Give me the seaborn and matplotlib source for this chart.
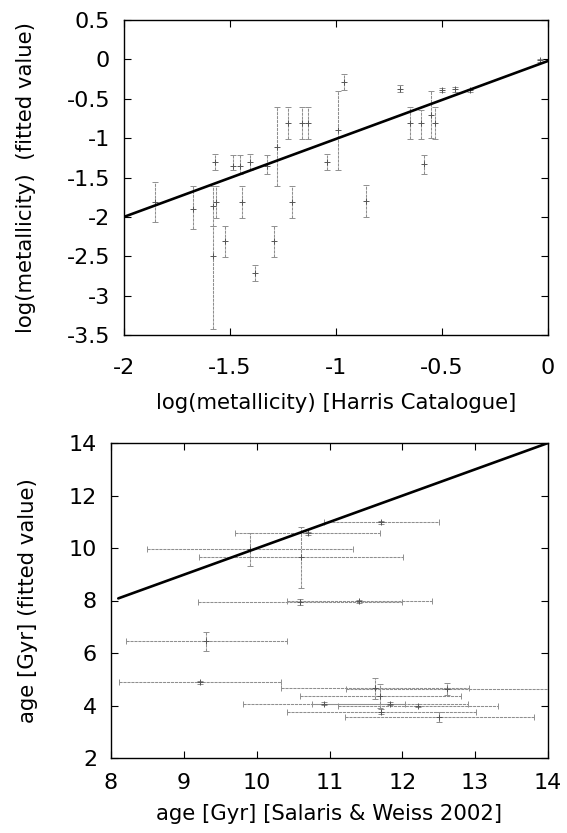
import numpy as np
import pandas as pd
import matplotlib
matplotlib.use("Agg")
import matplotlib.pyplot as plt
import seaborn as sns

# ---------------- data: top panel (metallicity) ----------------
met_x = [-1.853, -1.673, -1.58, -1.58, -1.573, -1.564, -1.522, -1.486, -1.455,
         -1.442, -1.405, -1.383, -1.327, -1.294, -1.277, -1.228, -1.209, -1.161,
         -1.130, -1.043, -0.992, -0.962, -0.859, -0.700, -0.651, -0.600, -0.587,
         -0.552, -0.532, -0.500, -0.441, -0.370, -0.037]
met_y = [-1.81, -1.90, -1.86, -2.50, -1.30, -1.81, -2.31, -1.36, -1.36,
         -1.81, -1.30, -2.71, -1.36, -2.31, -1.11, -0.81, -1.81, -0.81,
         -0.81, -1.30, -0.90, -0.29, -1.80, -0.37, -0.81, -0.81, -1.33,
         -0.70, -0.81, -0.39, -0.38, -0.39, -0.01]
met_err_lo = [0.25, 0.26, 0.25, 0.92, 0.10, 0.20, 0.20, 0.05, 0.10,
              0.20, 0.10, 0.10, 0.10, 0.20, 0.50, 0.20, 0.20, 0.20,
              0.20, 0.10, 0.50, 0.10, 0.20, 0.05, 0.20, 0.20, 0.12,
              0.30, 0.20, 0.03, 0.03, 0.02, 0.02]
met_err_hi = [0.25, 0.29, 0.25, 0.39, 0.10, 0.20, 0.20, 0.15, 0.15,
              0.20, 0.10, 0.10, 0.15, 0.20, 0.51, 0.20, 0.20, 0.20,
              0.20, 0.10, 0.50, 0.10, 0.20, 0.05, 0.20, 0.17, 0.12,
              0.30, 0.20, 0.03, 0.03, 0.02, 0.02]
met_fit_x = [-2.0, 0.0]
met_fit_y = [-2.0, -0.02]
met_xticks = [-2, -1.5, -1, -0.5, 0]
met_xticklabels = ["-2", "-1.5", "-1", "-0.5", "0"]
met_yticks = [0.5, 0, -0.5, -1, -1.5, -2, -2.5, -3, -3.5]
met_yticklabels = ["0.5", "0", "-0.5", "-1", "-1.5", "-2", "-2.5", "-3", "-3.5"]

# ---------------- data: bottom panel (age) ----------------
age_x = [11.71, 10.70, 9.91, 10.61, 10.60, 11.41, 9.31, 9.22,
         11.62, 12.61, 11.70, 10.92, 11.83, 12.22, 11.71, 12.51]
age_y = [10.98, 10.56, 9.95, 9.64, 7.95, 7.97, 6.44, 4.88,
         4.66, 4.64, 4.37, 4.07, 4.07, 4.00, 3.77, 3.57]
age_xerr = [0.79, 1.00, 1.41, 1.40, 1.40, 1.00, 1.10, 1.11,
            1.29, 1.39, 1.10, 1.11, 1.07, 1.10, 1.30, 1.30]
age_yerr = [0.05, 0.05, 0.63, 1.15, 0.12, 0.05, 0.36, 0.07,
            0.40, 0.23, 0.45, 0.06, 0.06, 0.05, 0.08, 0.19]
age_fit_x = [8.1, 14.0]
age_fit_y = [8.08, 14.0]
age_xticks = [8, 9, 10, 11, 12, 13, 14]
age_yticks = [2, 4, 6, 8, 10, 12, 14]

# ---------------- style ----------------
sns.set_theme(style="ticks")
plt.rcParams["font.family"] = ["DejaVu Sans"]
plt.rcParams["axes.linewidth"] = 1.0
for key in ("text.color", "axes.labelcolor", "xtick.color", "ytick.color"):
    plt.rcParams[key] = "black"

FS = 16      # tick labels
LFS = 15.3   # axis labels
ERR_C = "#8f8f8f"
DASH = (0, (3, 0.8))

fig = plt.figure(figsize=(5.67, 8.33), dpi=100)
ax1 = fig.add_axes([124 / 567, 1 - 335 / 833, (548 - 124) / 567, (335 - 20) / 833])
ax2 = fig.add_axes([111 / 567, 1 - 758 / 833, (548 - 111) / 567, (758 - 443) / 833])

# top panel
met_df = pd.DataFrame({"x": met_x, "y": met_y})
eb1 = ax1.errorbar(met_x, met_y, yerr=[met_err_lo, met_err_hi], fmt="none",
                   ecolor=ERR_C, elinewidth=0.75, capsize=2.2, capthick=0.7, zorder=2)
for lc in eb1[2]:
    lc.set_linestyle(DASH)
sns.scatterplot(data=met_df, x="x", y="y", marker="+", s=14, color="#555555",
                linewidth=0.7, ax=ax1, zorder=3, legend=False)
sns.lineplot(x=met_fit_x, y=met_fit_y, color="black", linewidth=1.9, ax=ax1, zorder=4)
ax1.set_xlim(-2, 0)
ax1.set_ylim(-3.5, 0.5)
ax1.set_xticks(met_xticks)
ax1.set_xticklabels(met_xticklabels)
ax1.set_yticks(met_yticks)
ax1.set_yticklabels(met_yticklabels)
ax1.set_xlabel("log(metallicity) [Harris Catalogue]", fontsize=LFS)
ax1.set_ylabel("log(metallicity)  (fitted value)", fontsize=LFS)
ax1.tick_params(axis="x", direction="in", top=True, bottom=True, length=5,
                width=0.8, labelsize=FS, pad=16.5)
ax1.tick_params(axis="y", direction="in", left=True, right=True, length=5,
                width=0.8, labelsize=FS, pad=10)
ax1.xaxis.set_label_coords(0.5, -0.185)
ax1.yaxis.set_label_coords(-0.208, 0.5)

# bottom panel
age_df = pd.DataFrame({"x": age_x, "y": age_y})
eb2 = ax2.errorbar(age_x, age_y, xerr=age_xerr, yerr=age_yerr, fmt="none",
                   ecolor=ERR_C, elinewidth=0.75, capsize=2.2, capthick=0.7, zorder=2)
for lc in eb2[2]:
    lc.set_linestyle(DASH)
sns.scatterplot(data=age_df, x="x", y="y", marker="+", s=14, color="#555555",
                linewidth=0.7, ax=ax2, zorder=3, legend=False)
sns.lineplot(x=age_fit_x, y=age_fit_y, color="black", linewidth=1.9, ax=ax2, zorder=4)
ax2.set_xlim(8, 14)
ax2.set_ylim(2, 14)
ax2.set_xticks(age_xticks)
ax2.set_yticks(age_yticks)
ax2.set_xlabel("age [Gyr] [Salaris & Weiss 2002]", fontsize=LFS)
ax2.set_ylabel("age [Gyr] (fitted value)", fontsize=LFS)
ax2.tick_params(axis="x", direction="in", top=True, bottom=True, length=5,
                width=0.8, labelsize=FS, pad=10.5)
ax2.tick_params(axis="y", direction="in", left=True, right=True, length=5,
                width=0.8, labelsize=FS, pad=10)
ax2.xaxis.set_label_coords(0.5, -0.147)
ax2.yaxis.set_label_coords(-0.167, 0.5)

for ax in (ax1, ax2):
    for sp in ax.spines.values():
        sp.set_visible(True)
        sp.set_color("black")

fig.savefig("out.png", dpi=100)
